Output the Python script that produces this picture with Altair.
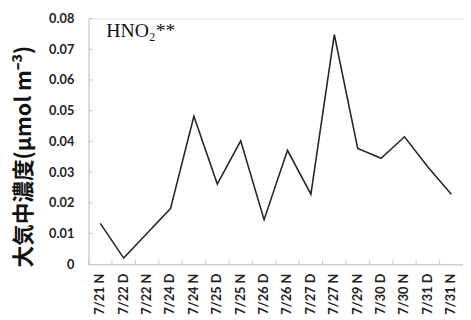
import altair as alt
import pandas as pd

categories = ["7/21 N", "7/22 D", "7/22 N", "7/24 D", "7/24 N", "7/25 D", "7/25 N", "7/26 D",
              "7/26 N", "7/27 D", "7/27 N", "7/29 N", "7/30 D", "7/30 N", "7/31 D", "7/31 N"]
values = [0.0133, 0.0020, 0.0101, 0.0181, 0.0482, 0.0261, 0.0402, 0.0145,
          0.0371, 0.0228, 0.0748, 0.0377, 0.0345, 0.0415, 0.0317, 0.0228]
y_ticks = [0, 0.01, 0.02, 0.03, 0.04, 0.05, 0.06, 0.07, 0.08]
label_text = "HNO\u2082**"
y_title = "大気中濃度(μmol m\u207b\u00b3)"

W, H = 381, 250
df = pd.DataFrame({"cat": categories, "val": values})
tick_df = pd.DataFrame({"val": y_ticks})
ann_df = pd.DataFrame({"t": [label_text]})

xscale = alt.Scale(type="band", domain=categories, paddingInner=0, paddingOuter=0)
yscale = alt.Scale(domain=[0, 0.08], nice=False, zero=True)
grey = "#c8c8c8"

x_axis = alt.Axis(ticks=False, domainColor=grey, domainWidth=1, labelAngle=270,
                  labelAlign="right", labelBaseline="middle", labelPadding=9,
                  labelFont="Lato", labelFontWeight="bold", labelFontSize=13,
                  labelColor="#222222", bandPosition=0.5, labelOverlap=False)
y_axis = alt.Axis(values=y_ticks, ticks=False, grid=False, domainColor=grey,
                  labelExpr="datum.value == 0 ? '0' : format(datum.value, '.2f')",
                  labelFont="Lato", labelFontWeight="bold", labelFontSize=13,
                  labelColor="#222222", labelPadding=15, labelOverlap=False,
                  titleFont="Noto Sans CJK JP", titleFontWeight="bold", titleFontSize=22,
                  titleColor="#111111", titleAngle=270, titleAlign="center",
                  titleBaseline="middle", titleX=-66, titleY=140)

line = alt.Chart(df).mark_line(color="#262626", strokeWidth=1.6).encode(
    x=alt.X("cat:N", scale=xscale, sort=categories, bandPosition=0.5, title=None, axis=x_axis),
    y=alt.Y("val:Q", scale=yscale, title=y_title, axis=y_axis),
)

xticks = alt.Chart(df).mark_rule(color=grey, strokeWidth=1).encode(
    x=alt.X("cat:N", scale=xscale, sort=categories, bandPosition=0, title=None, axis=x_axis),
    y=alt.value(H - 4), y2=alt.value(H),
)

yticks = alt.Chart(tick_df).mark_rule(color=grey, strokeWidth=1).encode(
    y=alt.Y("val:Q", scale=yscale, title=y_title, axis=y_axis), x=alt.value(0), x2=alt.value(4),
)

ann = alt.Chart(ann_df).mark_text(font="Liberation Serif", fontSize=20, align="left",
                                  baseline="alphabetic", color="#111111").encode(
    text="t:N", x=alt.value(18), y=alt.value(19),
)

chart = alt.layer(line, yticks, xticks, ann).properties(
    width=W, height=H,
    autosize=alt.AutoSizeParams(type="none"),
    padding={"left": 82, "top": 8, "right": 0, "bottom": 54},
).configure_view(stroke=None).configure(background="white")

chart.save("out.html", embed_options={"renderer": "svg", "actions": False})
